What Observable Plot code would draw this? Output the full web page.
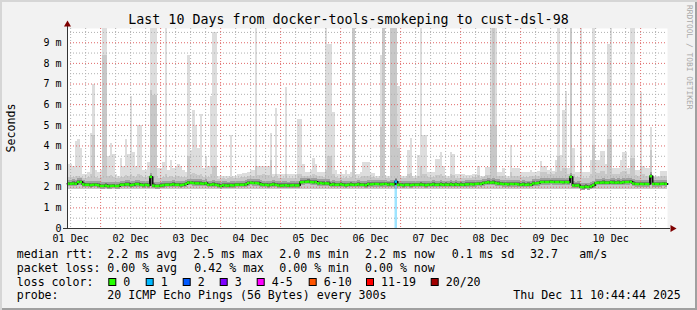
<!DOCTYPE html>
<html><head><meta charset="utf-8">
<script src="https://cdn.jsdelivr.net/npm/d3@7"></script>
<script src="https://cdn.jsdelivr.net/npm/@observablehq/plot@0.6"></script>
<style>
html,body{margin:0;padding:0;background:#ffffff;}
#chart{position:relative;width:697px;height:310px;overflow:hidden;background:#f2f2f2;
  box-shadow: inset 2px 2px 0 #d6d6d6, inset -2px -2px 0 #a0a0a0;}
#chart svg{position:absolute;left:0;top:0;}
</style></head><body><div id="chart"></div>
<script>
// ---------- data ----------
const startTime = Date.UTC(2025, 11, 1, 10, 44, 44); // Thu Dec 11 10:44:44 2025 minus 10 days
const hourMs = 3600e3;
const yTop = 9.69;

// max ping rtt per hour (ms), values >= 9.69 are clipped at the top
const maxRtt = [
 3.1,3.1,3.0,4.2,4.3,3.9,2.6,2.6,2.7,4.6,
 7.0,2.8,2.7,2.8,10,10,3.5,4.1,3.6,2.6,
 2.5,3.4,3.0,4.3,3.6,6.4,3.7,3.0,5.0,5.0,
 2.8,2.8,3.2,10,10,10,2.9,2.9,3.2,10,
 2.8,3.3,2.9,3.0,3.1,3.0,2.8,2.7,8.4,3.8,
 5.7,5.0,3.9,5.5,2.9,3.5,3.0,6.4,9.5,9.5,
 2.5,2.5,2.5,2.5,2.5,4.5,2.5,2.5,2.6,2.6,
 2.65,2.65,2.7,2.8,2.8,10,3.0,3.0,3.0,3.0,
 3.0,4.6,2.6,5.8,2.6,2.6,2.6,6.85,2.6,2.6,
 2.6,2.6,5.3,5.3,3.1,2.7,2.7,2.8,3.4,3.1,
 2.7,2.7,2.7,10,8.9,8.9,5.6,2.8,2.6,2.7,
 2.6,2.8,2.6,2.7,10,2.6,2.6,2.7,3.2,3.2,
 3.2,2.65,2.65,2.5,2.5,8.4,10,2.5,2.5,10,
 10,10,6.9,2.5,2.5,2.5,3.8,4.35,2.5,2.5,
 3.55,10,4.5,4.5,2.7,2.7,2.7,3.35,3.35,3.7,
 3.0,2.5,2.5,3.7,3.6,2.6,2.6,2.6,2.6,2.55,
 2.55,2.55,2.6,2.6,3.0,2.5,2.5,2.95,2.95,10,
 10,10,2.7,2.7,2.9,2.5,2.5,4.0,2.9,2.9,
 2.9,2.7,2.7,2.7,2.7,2.8,2.7,2.7,2.75,3.25,
 3.0,3.0,2.8,2.9,2.75,3.3,10,3.55,5.7,6.65,
 2.9,10,3.9,2.7,2.7,10,2.7,2.7,2.7,3.3,
 10,3.3,3.3,3.75,3.75,3.1,8.9,10,2.9,2.9,
 2.9,3.3,3.7,3.7,2.9,10,10,2.8,2.8,6.6,
 3.0,2.9,2.9,4.9,2.5,2.5,2.5,2.75,2.75,2.75
];

// upper edge of the denser smoke per hour (ms)
const midRtt = [
 2.45,2.45,2.45,2.5,2.5,2.45,2.4,2.4,2.45,2.6,
 4.5,2.45,2.4,2.45,8.4,8.4,2.5,2.55,2.45,2.4,
 2.4,2.45,2.45,2.55,2.5,2.6,2.5,2.45,2.6,2.55,
 2.45,2.45,2.5,6.7,6.45,6.45,2.4,2.4,2.45,2.6,
 2.45,2.5,2.45,2.5,2.5,2.45,2.45,2.45,3.5,2.6,
 2.65,2.6,2.55,2.6,2.45,2.5,2.45,2.6,3.0,3.0,
 2.35,2.35,2.4,2.35,2.4,2.45,2.4,2.4,2.4,2.45,
 2.45,2.45,2.5,2.5,2.5,3.0,2.55,2.55,2.6,2.55,
 2.55,3.3,2.45,2.6,2.4,2.4,2.4,2.6,2.4,2.4,
 2.4,2.4,2.6,2.6,2.5,2.5,2.5,2.5,2.6,2.55,
 2.5,2.5,2.45,2.8,3.5,3.5,2.6,2.45,2.4,2.45,
 2.4,2.45,2.4,2.45,10,2.4,2.4,2.45,2.5,2.5,
 2.5,2.45,2.45,2.4,2.4,4.9,10,2.4,2.4,10,
 10,10,3.9,2.4,2.4,2.4,2.6,2.65,2.4,2.4,
 2.5,3.0,2.6,2.6,2.45,2.45,2.45,2.55,2.55,2.6,
 2.5,2.4,2.4,2.6,2.55,2.4,2.4,2.4,2.4,2.4,
 2.4,2.4,2.45,2.45,2.55,2.4,2.45,2.55,2.55,5.0,
 10,5.0,2.5,2.5,2.5,2.4,2.4,2.7,2.5,2.5,
 2.5,2.45,2.45,2.45,2.45,2.5,2.5,2.5,2.5,2.7,
 2.7,2.7,2.6,2.65,2.6,2.7,3.5,2.75,2.9,2.9,
 2.6,10,2.6,2.45,2.45,3.5,2.4,2.4,2.4,2.6,
 4.0,2.65,2.65,2.75,2.75,2.6,4.3,4.3,2.6,2.6,
 2.6,2.7,2.75,2.75,2.6,3.4,3.4,2.55,2.5,3.0,
 2.6,2.5,2.5,3.8,2.45,2.45,2.45,2.5,2.5,2.5
];

// median rtt per hour (ms)
const medianRtt = [
 2.17,2.17,2.18,2.17,2.25,2.25,2.14,2.12,2.12,2.10,
 2.12,2.12,2.10,2.06,2.06,2.08,2.05,2.06,2.07,2.06,
 2.06,2.12,2.12,2.14,2.14,2.10,2.12,2.15,2.15,2.12,
 2.10,2.12,2.10,2.50,2.08,2.06,2.06,2.08,2.10,2.12,
 2.12,2.12,2.14,2.12,2.12,2.10,2.12,2.16,2.22,2.22,
 2.20,2.19,2.19,2.18,2.17,2.19,2.12,2.12,2.14,2.12,
 2.09,2.06,2.10,2.09,2.08,2.10,2.09,2.12,2.12,2.12,
 2.12,2.14,2.20,2.22,2.20,2.20,2.19,2.14,2.12,2.12,
 2.10,2.12,2.14,2.12,2.09,2.08,2.09,2.10,2.08,2.09,
 2.10,2.09,2.09,2.24,2.25,2.26,2.27,2.25,2.24,2.25,
 2.19,2.20,2.18,2.19,2.18,2.12,2.14,2.12,2.12,2.14,
 2.12,2.10,2.12,2.13,2.12,2.12,2.14,2.12,2.12,2.10,
 2.15,2.14,2.15,2.16,2.15,2.14,2.15,2.16,2.13,2.15,
 2.14,2.27,2.12,2.12,2.10,2.12,2.12,2.10,2.12,2.12,
 2.12,2.13,2.12,2.10,2.12,2.12,2.14,2.12,2.12,2.14,
 2.12,2.13,2.12,2.14,2.12,2.14,2.12,2.13,2.12,2.14,
 2.14,2.15,2.14,2.16,2.17,2.16,2.20,2.22,2.24,2.22,
 2.23,2.20,2.18,2.17,2.15,2.16,2.14,2.16,2.15,2.16,
 2.14,2.12,2.14,2.12,2.13,2.12,2.18,2.19,2.20,2.25,
 2.25,2.25,2.25,2.26,2.25,2.25,2.25,2.25,2.24,2.25,
 2.24,2.50,2.09,2.08,2.09,2.01,2.00,2.03,2.01,2.04,
 2.10,2.20,2.22,2.22,2.23,2.22,2.22,2.24,2.23,2.22,
 2.23,2.22,2.24,2.25,2.25,2.26,2.18,2.16,2.15,2.16,
 2.15,2.16,2.15,2.53,2.16,2.16,2.15,2.16,2.17,2.16
];

// hours with packet loss and the number of lost pings
const lossHours = [131];
const lossCounts = [1];

const yTickValues = [0, 1, 2, 3, 4, 5, 6, 7, 8, 9];
const yTickLabels = ["0", "1 m", "2 m", "3 m", "4 m", "5 m", "6 m", "7 m", "8 m", "9 m"];
const dayLabels = ["01 Dec", "02 Dec", "03 Dec", "04 Dec", "05 Dec", "06 Dec", "07 Dec", "08 Dec", "09 Dec", "10 Dec"];

const titleText = "Last 10 Days from docker-tools-smokeping to cust-dsl-98";
const rttStats = ["2.2 ms avg", "2.5 ms max", "2.0 ms min", "2.2 ms now", "0.1 ms sd"];
const lossStats = ["0.00 % avg", "0.42 % max", "0.00 % min", "0.00 % now"];
const amsValue = "32.7";
const amsUnit = "am/s";
const lossLabels = ["0", "1", "2", "3", "4-5", "6-10", "11-19", "20/20"];
const lossColors = ["#26ff00", "#00b8ff", "#0059ff", "#7e00ff", "#ff00ff", "#ff5500", "#ff0000", "#a10000"];
const probeText = "20 ICMP Echo Pings (56 Bytes) every 300s";
const dateText = "Thu Dec 11 10:44:44 2025";

// ---------- build ----------
const mono = "'DejaVu Sans Mono', monospace";
const start = new Date(startTime);
const end = new Date(startTime + maxRtt.length * hourMs);
const lossColorFor = n => n === 0 ? lossColors[0] : n === 1 ? lossColors[1] : n === 2 ? lossColors[2] :
  n === 3 ? lossColors[3] : n <= 5 ? lossColors[4] : n <= 10 ? lossColors[5] : n <= 19 ? lossColors[6] : lossColors[7];

const bins = maxRtt.map((m, i) => {
  const li = lossHours.indexOf(i);
  return {
    t1: new Date(startTime + i * hourMs),
    t2: new Date(startTime + (i + 1) * hourMs),
    max: m, mid: midRtt[i], median: medianRtt[i],
    loss: li >= 0 ? lossCounts[li] : 0
  };
});
const stepPts = bins.map(b => ({t: b.t1, median: b.median}))
  .concat([{t: end, median: bins[bins.length - 1].median}]);
const lossBins = bins.filter(b => b.loss > 0);

const majorX = d3.utcDay.range(start, end);
const minorX = d3.utcHour.every(6).range(start, end).filter(d => d.getUTCHours() !== 0);
const majorY = d3.range(1, 10);
const minorY = d3.range(0.5, yTop, 1);
const dayNoons = dayLabels.map((_, i) => new Date(Date.UTC(2025, 11, i + 1, 12)));

const plot = Plot.plot({
  width: 697, height: 310,
  marginLeft: 67, marginRight: 30, marginTop: 28, marginBottom: 82,
  x: {type: "utc", domain: [start, end], axis: null},
  y: {domain: [0, yTop], axis: null},
  color: {type: "identity"},
  style: {background: "transparent", overflow: "visible", fontFamily: mono},
  marks: [
    Plot.frame({fill: "#ffffff", stroke: "none"}),
    Plot.rectY(bins, {x1: "t1", x2: "t2", y1: () => 1.88, y2: "max", fill: "#dddddd", clip: true, shapeRendering: "crispEdges"}),
    Plot.rectY(bins, {x1: "t1", x2: "t2", y1: () => 1.9, y2: "mid", fill: "#c8c8c8", clip: true, shapeRendering: "crispEdges"}),
    Plot.rectY(bins, {x1: "t1", x2: "t2", y1: d => d.median - 0.15, y2: d => d.median + 0.17, fill: "#a0a0a0", shapeRendering: "crispEdges"}),
    Plot.rectY(bins, {x1: "t1", x2: "t2", y1: d => d.median - 0.07, y2: d => d.median + 0.08, fill: "#757575", shapeRendering: "crispEdges"}),
    Plot.ruleX(minorX, {stroke: "#b0b0b0", strokeDasharray: "1,2"}),
    Plot.ruleY(minorY, {stroke: "#b0b0b0", strokeDasharray: "1,2"}),
    Plot.ruleX(majorX, {stroke: "#e06868", strokeDasharray: "1,2"}),
    Plot.ruleY(majorY, {stroke: "#e06868", strokeDasharray: "1,2"}),
    Plot.rectY(lossBins, {x1: "t1", x2: "t2", y1: () => 0, y2: "median", fill: d => lossColorFor(d.loss), fillOpacity: 0.38}),
    Plot.lineY(stepPts, {x: "t", y: "median", curve: "step-after", stroke: "#111111", strokeWidth: 2}),
    Plot.ruleY(bins, {x1: "t1", x2: "t2", y: "median", stroke: d => lossColorFor(d.loss), strokeWidth: 2.5}),
    // axes
    Plot.ruleY([0], {stroke: "#333333", insetLeft: -4, insetRight: -3}),
    Plot.ruleX([start], {stroke: "#333333", insetTop: -3}),
    Plot.dot([end], {x: d => d, y: () => 0, dx: 5, symbol: "triangle", r: 2.6, rotate: 90, fill: "#7f0000", stroke: "none"}),
    Plot.dot([start], {x: d => d, y: () => yTop, dy: -4, symbol: "triangle", r: 2.6, fill: "#7f0000", stroke: "none"}),
    Plot.text(yTickValues, {y: d => d, text: (d, i) => yTickLabels[i], frameAnchor: "left", textAnchor: "end", dx: -6, fontSize: 10, fill: "#000"}),
    Plot.text(dayNoons, {x: d => d, text: (d, i) => dayLabels[i], frameAnchor: "bottom", lineAnchor: "bottom", dy: 13, fontSize: 10, fill: "#000"})
  ]
});

document.getElementById("chart").appendChild(plot);
const svg = d3.select(plot);
function addText(x, y, str, size, opts = {}) {
  const t = svg.append("text").attr("x", x).attr("y", y)
    .attr("font-family", mono).attr("font-size", size).attr("fill", opts.fill || "#000")
    .attr("text-anchor", opts.anchor || "start").attr("xml:space", "preserve").text(str);
  if (opts.transform) t.attr("transform", opts.transform).attr("x", 0).attr("y", 0);
  return t;
}
addText(348.5, 24, titleText, 13.3, {anchor: "middle"});
addText(0, 0, "Seconds", 11.6, {anchor: "middle", transform: "translate(14.5,128) rotate(-90)"});
addText(0, 0, "RRDTOOL / TOBI OETIKER", 7.9, {fill: "#a8a8a8", transform: "translate(686.5,5) rotate(90)"});

const legendFont = 11.6;
const row = [258, 272, 285.7, 299.3];
const statX = [107.3, 193.3, 279.3, 365, 451.7];
addText(16.7, row[0], "median rtt:", legendFont);
rttStats.forEach((s, i) => addText(statX[i], row[0], s, legendFont));
addText(530, row[0], amsValue, legendFont);
addText(579.3, row[0], amsUnit, legendFont);
addText(16.7, row[1], "packet loss:", legendFont);
lossStats.forEach((s, i) => addText(statX[i] + (i === 1 ? 1 : 0), row[1], s, legendFont));
addText(16.7, row[2], "loss color:", legendFont);
const squareX = [108.3, 145.7, 182.7, 219.7, 256.7, 308.7, 366, 430.7];
lossLabels.forEach((s, i) => {
  svg.append("rect").attr("x", squareX[i] + 0.5).attr("y", 278.5).attr("width", 7).attr("height", 7)
    .attr("fill", lossColors[i]).attr("stroke", "#000").attr("stroke-width", 1);
  addText(squareX[i] + 15, row[2], s, legendFont);
});
addText(16.7, row[3], "probe:", legendFont);
addText(107.3, row[3], probeText, legendFont);
addText(513.3, row[3], dateText, legendFont);
</script>
</body></html>
